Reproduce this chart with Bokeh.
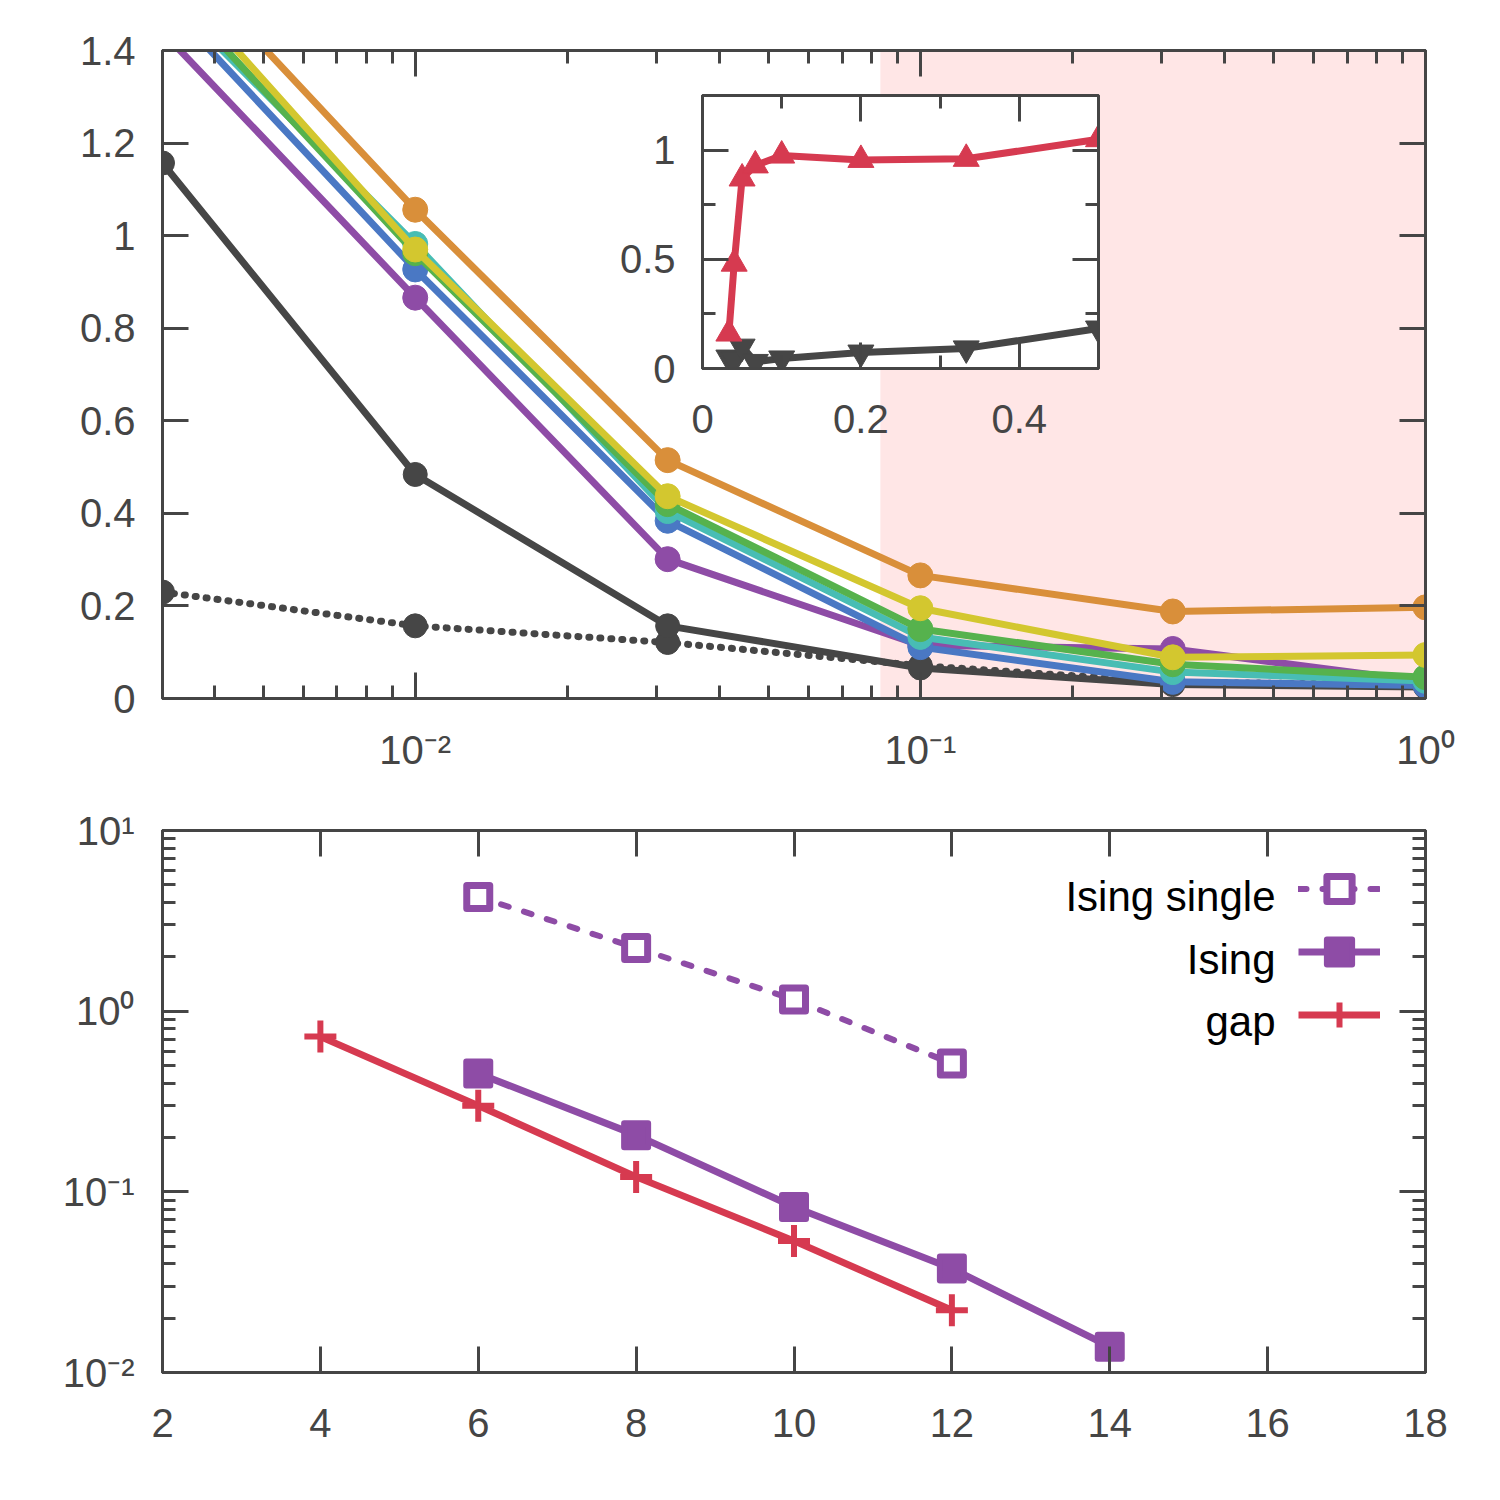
from bokeh.plotting import figure
from bokeh.layouts import column
from bokeh.models import (Range1d, FixedTicker, LinearAxis, LogAxis, BoxAnnotation,
                          Legend, LegendItem, Label, CustomJSTickFormatter)
from bokeh.embed import file_html
from bokeh.resources import INLINE

# ---------------- data ----------------
# upper panel: energy-like quantity vs. field strength (log axis)
h = [0.00316, 0.01, 0.0316, 0.1, 0.316, 1.0]
purple_y = [1.44, 0.866, 0.301, 0.115, 0.107, 0.036]
blue_y = [1.51, 0.927, 0.384, 0.111, 0.036, 0.028]
cyan_y = [1.53, 0.982, 0.405, 0.133, 0.057, 0.038]
green_y = [1.55, 0.962, 0.420, 0.150, 0.074, 0.046]
yellow_y = [1.58, 0.970, 0.437, 0.195, 0.089, 0.094]
orange_y = [1.64, 1.056, 0.515, 0.266, 0.188, 0.197]
black_y = [1.157, 0.484, 0.157, 0.066, 0.030, 0.025]
black_dot_y = [0.230, 0.157, 0.121, 0.071, 0.035, 0.030]

# inset
inset_x = [0.0333, 0.04, 0.05, 0.0667, 0.1, 0.2, 0.333, 0.5]
inset_up = [0.16, 0.48, 0.87, 0.93, 0.975, 0.955, 0.96, 1.05]
inset_down = [0.05, 0.04, 0.10, 0.03, 0.046, 0.073, 0.092, 0.183]

# lower panel: scaling with system size
L_single = [6, 8, 10, 12]
ising_single = [4.29, 2.24, 1.16, 0.513]
L_ising = [6, 8, 10, 12, 14]
ising = [0.452, 0.206, 0.0824, 0.0376, 0.0139]
L_gap = [4, 6, 8, 10, 12]
gap = [0.723, 0.300, 0.121, 0.0535, 0.0221]

top_yticks = [0, 0.2, 0.4, 0.6, 0.8, 1.0, 1.2, 1.4]
top_xdecades = [0.01, 0.1, 1.0]
bot_xticks = [2, 4, 6, 8, 10, 12, 14, 16, 18]
bot_ydecades = [0.01, 0.1, 1.0, 10.0]

legend_labels = ["Ising single", "Ising", "gap"]

# ---------------- styling ----------------
AX = "#454545"
FONT = "Liberation Sans"
FS = "40px"
C_PURPLE = "#8e4ca6"
C_BLUE = "#4a78c4"
C_CYAN = "#48bdb4"
C_GREEN = "#56b24d"
C_YELLOW = "#d3c72f"
C_ORANGE = "#d98f3a"
C_BLACK = "#464646"
C_RED = "#d63a50"
C_PINK = "#ffe6e6"

plain_fmt = "return tick.toString();"
pow_fmt = """
const e = Math.round(Math.log10(tick));
const sup = {'-': '\u207b', '0': '\u2070', '1': '\u00b9', '2': '\u00b2', '3': '\u00b3'};
return '10' + String(e).split('').map(c => sup[c]).join('');
"""
blank_fmt = "return '';"

# shift that puts an alphabetic baseline where it is wanted
BASE_FIX = 0.38


def style_axis(ax, ticker, fmt, major_in=26, minor_in=13, labels=True, standoff=27):
    ax.ticker = ticker
    ax.formatter = CustomJSTickFormatter(code=fmt if labels else blank_fmt)
    ax.axis_line_color = AX
    ax.axis_line_width = 3
    ax.major_tick_line_color = AX
    ax.major_tick_line_width = 3
    ax.minor_tick_line_color = AX
    ax.minor_tick_line_width = 3
    ax.major_tick_in = major_in
    ax.major_tick_out = 0
    ax.minor_tick_in = minor_in
    ax.minor_tick_out = 0
    ax.major_label_text_font = FONT
    ax.major_label_text_color = AX
    ax.major_label_text_font_size = FS
    ax.major_label_standoff = standoff


def base_fig(**kw):
    f = figure(output_backend="svg", toolbar_location=None, **kw)
    f.grid.visible = False
    f.outline_line_color = AX
    f.outline_line_width = 3
    f.outline_line_alpha = 1
    return f


# ---------------- upper panel ----------------
top = base_fig(width=1500, height=780, x_axis_type="log",
               x_range=Range1d(0.00316, 1.0), y_range=Range1d(0, 1.4),
               min_border_left=162, min_border_right=75,
               min_border_top=50, min_border_bottom=82)

decade_minor_top = [k * 10.0 ** e for e in (-3, -2, -1) for k in range(2, 10)]
xt_top = FixedTicker(ticks=top_xdecades, minor_ticks=decade_minor_top)
yt_top = FixedTicker(ticks=top_yticks, minor_ticks=[])

style_axis(top.xaxis[0], xt_top, pow_fmt, standoff=29)
style_axis(top.yaxis[0], yt_top, plain_fmt, standoff=27)
ax_above = LogAxis()
style_axis(ax_above, xt_top, pow_fmt, labels=False)
top.add_layout(ax_above, "above")
ax_right = LinearAxis()
style_axis(ax_right, yt_top, plain_fmt, labels=False)
top.add_layout(ax_right, "right")

top.add_layout(BoxAnnotation(left=1 / 12, fill_color=C_PINK, fill_alpha=1,
                             line_color=None, level="underlay"))

top.line(h, black_dot_y, line_color=C_BLACK, line_width=7, line_dash="1 10", line_cap="round")
top.scatter(h, black_dot_y, size=24, color=C_BLACK)
top.line(h, black_y, line_color=C_BLACK, line_width=7, line_join="round")
top.scatter(h, black_y, size=24, color=C_BLACK)
for ys, c in [(purple_y, C_PURPLE), (blue_y, C_BLUE), (cyan_y, C_CYAN),
              (green_y, C_GREEN), (yellow_y, C_YELLOW), (orange_y, C_ORANGE)]:
    top.line(h, ys, line_color=c, line_width=7, line_join="round")
    top.scatter(h, ys, size=25, color=c)

# ---------------- inset ----------------
ins = base_fig(width=633, height=358, x_range=Range1d(0, 0.5), y_range=Range1d(0, 1.25),
               min_border_left=162, min_border_right=75,
               min_border_top=10, min_border_bottom=75,
               background_fill_color="white", border_fill_color=None)
ins.styles = {"position": "absolute", "left": "540px", "top": "85px"}

xt_in = FixedTicker(ticks=[0, 0.2, 0.4], minor_ticks=[0.1, 0.3])
yt_in = FixedTicker(ticks=[0, 0.5, 1.0], minor_ticks=[0.25, 0.75])
style_axis(ins.xaxis[0], xt_in, plain_fmt, standoff=36)
style_axis(ins.yaxis[0], yt_in, plain_fmt, standoff=27)
ia = LinearAxis()
style_axis(ia, xt_in, plain_fmt, labels=False)
ins.add_layout(ia, "above")
ir = LinearAxis()
style_axis(ir, yt_in, plain_fmt, labels=False)
ins.add_layout(ir, "right")

ins.line(inset_x, inset_down, line_color=C_BLACK, line_width=7, line_join="round")
ins.scatter(inset_x, inset_down, marker="inverted_triangle", size=26, color=C_BLACK)
ins.line(inset_x, inset_up, line_color=C_RED, line_width=7, line_join="round")
ins.scatter(inset_x, inset_up, marker="triangle", size=26, color=C_RED)

# ---------------- lower panel ----------------
bot = base_fig(width=1500, height=720, y_axis_type="log",
               x_range=Range1d(2, 18), y_range=Range1d(0.01, 10),
               min_border_left=162, min_border_right=75,
               min_border_top=50, min_border_bottom=128)

decade_minor_bot = [k * 10.0 ** e for e in (-2, -1, 0) for k in range(2, 10)]
yt_bot = FixedTicker(ticks=bot_ydecades, minor_ticks=decade_minor_bot)
xt_bot = FixedTicker(ticks=bot_xticks, minor_ticks=[])
style_axis(bot.xaxis[0], xt_bot, plain_fmt, standoff=36)
style_axis(bot.yaxis[0], yt_bot, pow_fmt, standoff=28)
ba = LinearAxis()
style_axis(ba, xt_bot, plain_fmt, labels=False)
bot.add_layout(ba, "above")
br = LogAxis()
style_axis(br, yt_bot, pow_fmt, labels=False)
bot.add_layout(br, "right")

l1 = bot.line(L_single, ising_single, line_color=C_PURPLE, line_width=6,
              line_dash="8 16", line_cap="round")
s1 = bot.scatter(L_single, ising_single, marker="square", size=23,
                 fill_color="white", line_color=C_PURPLE, line_width=7, line_join="round")
l2 = bot.line(L_ising, ising, line_color=C_PURPLE, line_width=7)
s2 = bot.scatter(L_ising, ising, marker="square", size=24, fill_color=C_PURPLE,
                 line_color=C_PURPLE, line_width=6, line_join="round")
l3 = bot.line(L_gap, gap, line_color=C_RED, line_width=7)
s3 = bot.scatter(L_gap, gap, marker="cross", size=32, line_color=C_RED, line_width=6)

# legend keys on the right, their texts right-aligned to the left of them
legend = Legend(items=[LegendItem(label=" ", renderers=[l1, s1]),
                       LegendItem(label=" ", renderers=[l2, s2]),
                       LegendItem(label=" ", renderers=[l3, s3])],
                location=(1136, 326), glyph_width=82, glyph_height=63, spacing=0,
                padding=0, margin=0, border_line_color=None, background_fill_alpha=0,
                label_standoff=0, label_width=0, label_text_font_size="10px")
bot.add_layout(legend)

for txt, yb in zip(legend_labels, [460, 397, 335]):
    bot.add_layout(Label(x=1113, y=yb + BASE_FIX * 42, x_units="screen", y_units="screen",
                         text=txt, text_align="right", text_baseline="alphabetic",
                         text_font=FONT, text_font_size="42px", text_color="black"))

layout = column(top, bot, ins)
open("out.html", "w").write(file_html(layout, INLINE))
